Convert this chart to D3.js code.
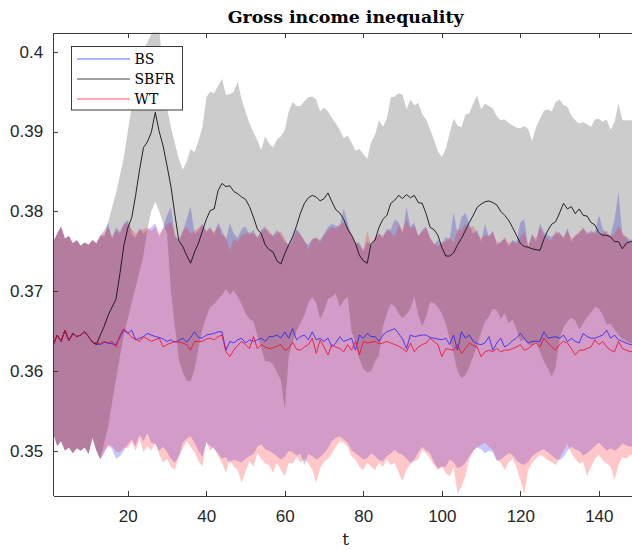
<!DOCTYPE html>
<html>
<head>
<meta charset="utf-8">
<script src="https://cdn.jsdelivr.net/npm/d3@7"></script>
<style>
  body { margin: 0; background: #fff; }
  svg { display: block; }
</style>
</head>
<body>
<svg id="chart" width="632" height="550"></svg>
<script>
// ---- labels ----
const chartTitle = "Gross income inequality";
const xAxisLabel = "t";
const seriesNames = ["BS", "SBFR", "WT"];
const xTickValues = [20, 40, 60, 80, 100, 120, 140];
const yTickValues = [0.35, 0.36, 0.37, 0.38, 0.39, 0.4];
const yTickLabels = ["0.35", "0.36", "0.37", "0.38", "0.39", "0.4"];

// ---- periods ----
const periods = d3.range(1, 150);

// ---- BS: mean and band ----
const bsMean = [
  0.3632,0.3645,0.3637,0.3651,0.3638,0.3647,0.3643,0.3645,0.3649,0.3643,
  0.3636,0.3634,0.3633,0.3636,0.3635,0.3634,0.3633,0.3642,0.3651,0.3647,
  0.3651,0.3639,0.3641,0.3643,0.3647,0.3645,0.3643,0.3642,0.3640,0.3637,
  0.3639,0.3636,0.3638,0.3641,0.3636,0.3642,0.3649,0.3642,0.3641,0.3645,
  0.3646,0.3647,0.3649,0.3649,0.3626,0.3637,0.3635,0.3639,0.3641,0.3635,
  0.3639,0.3637,0.3639,0.3641,0.3637,0.3643,0.3643,0.3645,0.3641,0.3649,
  0.3641,0.3653,0.3639,0.3643,0.3645,0.3639,0.3649,0.3639,0.3641,0.3637,
  0.3641,0.3630,0.3635,0.3643,0.3637,0.3639,0.3641,0.3626,0.3645,0.3641,
  0.3647,0.3643,0.3643,0.3637,0.3645,0.3649,0.3651,0.3653,0.3647,0.3640,
  0.3628,0.3645,0.3643,0.3644,0.3645,0.3645,0.3642,0.3641,0.3640,0.3639,
  0.3641,0.3633,0.3645,0.3626,0.3649,0.3641,0.3645,0.3637,0.3634,0.3633,
  0.3635,0.3643,0.3626,0.3635,0.3641,0.3630,0.3633,0.3638,0.3641,0.3647,
  0.3641,0.3635,0.3637,0.3637,0.3637,0.3649,0.3641,0.3642,0.3643,0.3641,
  0.3645,0.3637,0.3641,0.3637,0.3635,0.3647,0.3643,0.3641,0.3641,0.3643,
  0.3645,0.3651,0.3641,0.3645,0.3639,0.3637,0.3635,0.3633,0.3634
];
const bsHigh = [
  0.3762,0.3772,0.3781,0.3766,0.3769,0.3760,0.3764,0.3757,0.3761,0.3758,
  0.3764,0.3760,0.3770,0.3768,0.3785,0.3765,0.3780,0.3774,0.3785,0.3789,
  0.3772,0.3767,0.3779,0.3772,0.3777,0.3780,0.3785,0.3768,0.3780,0.3795,
  0.3805,0.3768,0.3765,0.3774,0.3790,0.3806,0.3772,0.3776,0.3785,0.3774,
  0.3781,0.3770,0.3786,0.3776,0.3764,0.3785,0.3772,0.3767,0.3778,0.3781,
  0.3770,0.3777,0.3766,0.3777,0.3781,0.3772,0.3770,0.3777,0.3770,0.3762,
  0.3758,0.3769,0.3778,0.3772,0.3762,0.3758,0.3766,0.3766,0.3764,0.3772,
  0.3780,0.3784,0.3782,0.3781,0.3804,0.3786,0.3768,0.3760,0.3761,0.3750,
  0.3762,0.3758,0.3766,0.3773,0.3766,0.3778,0.3777,0.3790,0.3786,0.3772,
  0.3805,0.3781,0.3786,0.3768,0.3777,0.3781,0.3766,0.3758,0.3764,0.3758,
  0.3768,0.3764,0.3799,0.3772,0.3793,0.3798,0.3784,0.3772,0.3777,0.3762,
  0.3784,0.3768,0.3776,0.3758,0.3762,0.3766,0.3756,0.3764,0.3762,0.3786,
  0.3790,0.3755,0.3772,0.3762,0.3785,0.3774,0.3770,0.3768,0.3772,0.3774,
  0.3766,0.3779,0.3762,0.3770,0.3772,0.3780,0.3771,0.3776,0.3772,0.3796,
  0.3778,0.3772,0.3770,0.3790,0.3824,0.3770,0.3768,0.3764,0.3766
];
const bsLow = [
  0.3522,0.3506,0.3512,0.3500,0.3504,0.3497,0.3503,0.3500,0.3504,0.3496,
  0.3516,0.3500,0.3490,0.3497,0.3508,0.3502,0.3490,0.3493,0.3500,0.3508,
  0.3514,0.3506,0.3520,0.3512,0.3522,0.3510,0.3508,0.3500,0.3505,0.3498,
  0.3490,0.3485,0.3493,0.3510,0.3515,0.3518,0.3510,0.3500,0.3492,0.3510,
  0.3506,0.3502,0.3497,0.3490,0.3492,0.3484,0.3489,0.3487,0.3485,0.3490,
  0.3493,0.3496,0.3505,0.3508,0.3502,0.3500,0.3497,0.3493,0.3489,0.3492,
  0.3500,0.3498,0.3494,0.3496,0.3482,0.3496,0.3493,0.3489,0.3492,0.3497,
  0.3503,0.3512,0.3516,0.3518,0.3514,0.3510,0.3501,0.3497,0.3493,0.3489,
  0.3491,0.3497,0.3493,0.3488,0.3487,0.3493,0.3497,0.3501,0.3497,0.3495,
  0.3490,0.3485,0.3489,0.3498,0.3505,0.3500,0.3497,0.3486,0.3478,0.3480,
  0.3480,0.3489,0.3486,0.3478,0.3480,0.3485,0.3493,0.3500,0.3504,0.3502,
  0.3497,0.3500,0.3498,0.3487,0.3489,0.3493,0.3497,0.3495,0.3488,0.3484,
  0.3482,0.3486,0.3493,0.3497,0.3500,0.3502,0.3498,0.3494,0.3490,0.3488,
  0.3492,0.3500,0.3505,0.3502,0.3500,0.3494,0.3497,0.3501,0.3506,0.3510,
  0.3505,0.3500,0.3503,0.3500,0.3503,0.3509,0.3507,0.3505,0.3506
];

// ---- SBFR: mean and band ----
const sbfrMean = [
  0.3632,0.3645,0.3637,0.3651,0.3638,0.3647,0.3643,0.3645,0.3649,0.3643,
  0.3636,0.3633,0.3645,0.3656,0.3670,0.3680,0.3690,0.3722,0.3757,0.3779,
  0.3792,0.3820,0.3852,0.3880,0.3887,0.3899,0.3924,0.3900,0.3882,0.3857,
  0.3831,0.3796,0.3763,0.3756,0.3745,0.3735,0.3749,0.3760,0.3775,0.3790,
  0.3801,0.3803,0.3826,0.3835,0.3831,0.3832,0.3825,0.3822,0.3818,0.3815,
  0.3806,0.3793,0.3778,0.3772,0.3758,0.3752,0.3749,0.3738,0.3734,0.3747,
  0.3758,0.3768,0.3782,0.3798,0.3810,0.3817,0.3820,0.3818,0.3813,0.3816,
  0.3823,0.3812,0.3802,0.3798,0.3790,0.3778,0.3770,0.3760,0.3745,0.3738,
  0.3735,0.3760,0.3764,0.3780,0.3790,0.3795,0.3810,0.3814,0.3820,0.3816,
  0.3821,0.3817,0.3820,0.3811,0.3810,0.3797,0.3780,0.3777,0.3770,0.3755,
  0.3744,0.3744,0.3748,0.3758,0.3766,0.3776,0.3786,0.3795,0.3805,0.3809,
  0.3812,0.3813,0.3811,0.3808,0.3800,0.3795,0.3789,0.3780,0.3770,0.3760,
  0.3756,0.3755,0.3753,0.3752,0.3751,0.3765,0.3776,0.3784,0.3787,0.3798,
  0.3810,0.3803,0.3806,0.3797,0.3803,0.3795,0.3794,0.3786,0.3783,0.3773,
  0.3770,0.3770,0.3768,0.3762,0.3762,0.3753,0.3760,0.3762,0.3762
];
const sbfrHigh = [
  0.3762,0.3772,0.3781,0.3766,0.3769,0.3760,0.3764,0.3757,0.3761,0.3758,
  0.3764,0.3760,0.3770,0.3776,0.3786,0.3805,0.3823,0.3845,0.3868,0.3900,
  0.3930,0.3965,0.3990,0.4003,0.4012,0.4022,0.4035,0.4030,0.3975,0.3930,
  0.3905,0.3885,0.3866,0.3852,0.3862,0.3878,0.3874,0.3888,0.3905,0.3943,
  0.3950,0.3948,0.3957,0.3966,0.3946,0.3947,0.3950,0.3962,0.3940,0.3925,
  0.3910,0.3899,0.3889,0.3877,0.3894,0.3885,0.3880,0.3890,0.3894,0.3902,
  0.3925,0.3937,0.3932,0.3932,0.3938,0.3943,0.3944,0.3940,0.3925,0.3930,
  0.3925,0.3917,0.3910,0.3902,0.3892,0.3895,0.3886,0.3876,0.3878,0.3872,
  0.3866,0.3887,0.3896,0.3914,0.3906,0.3916,0.3943,0.3944,0.3948,0.3946,
  0.3928,0.3940,0.3933,0.3936,0.3922,0.3915,0.3903,0.3890,0.3875,0.3868,
  0.3878,0.3898,0.3916,0.3908,0.3905,0.3921,0.3923,0.3935,0.3945,0.3928,
  0.3935,0.3932,0.3929,0.3919,0.3914,0.3915,0.3911,0.3908,0.3905,0.3904,
  0.3907,0.3903,0.3888,0.3905,0.3916,0.3926,0.3928,0.3925,0.3937,0.3940,
  0.3933,0.3931,0.3920,0.3914,0.3910,0.3912,0.3909,0.3906,0.3915,0.3916,
  0.3912,0.3915,0.3902,0.3912,0.3935,0.3914,0.3914,0.3914,0.3914
];
const sbfrLow = [
  0.3522,0.3506,0.3512,0.3500,0.3504,0.3497,0.3503,0.3500,0.3504,0.3496,
  0.3516,0.3500,0.3490,0.3510,0.3530,0.3560,0.3590,0.3618,0.3645,0.3665,
  0.3686,0.3705,0.3725,0.3745,0.3778,0.3800,0.3812,0.3800,0.3785,0.3772,
  0.3700,0.3655,0.3615,0.3598,0.3588,0.3587,0.3602,0.3628,0.3652,0.3668,
  0.3680,0.3684,0.3690,0.3695,0.3703,0.3695,0.3701,0.3693,0.3684,0.3672,
  0.3665,0.3662,0.3645,0.3628,0.3612,0.3612,0.3608,0.3598,0.3588,0.3552,
  0.3618,0.3636,0.3650,0.3660,0.3670,0.3685,0.3693,0.3685,0.3665,0.3675,
  0.3690,0.3693,0.3697,0.3680,0.3688,0.3693,0.3650,0.3635,0.3615,0.3603,
  0.3598,0.3600,0.3612,0.3620,0.3655,0.3672,0.3684,0.3681,0.3672,0.3666,
  0.3671,0.3678,0.3693,0.3670,0.3656,0.3668,0.3686,0.3685,0.3680,0.3672,
  0.3659,0.3640,0.3622,0.3600,0.3591,0.3595,0.3605,0.3618,0.3632,0.3648,
  0.3662,0.3668,0.3678,0.3676,0.3665,0.3672,0.3660,0.3664,0.3653,0.3637,
  0.3639,0.3633,0.3631,0.3637,0.3624,0.3612,0.3603,0.3593,0.3605,0.3640,
  0.3655,0.3662,0.3667,0.3663,0.3652,0.3660,0.3667,0.3673,0.3680,0.3678,
  0.3670,0.3658,0.3659,0.3652,0.3645,0.3640,0.3638,0.3635,0.3636
];

// ---- WT: mean and band ----
const wtMean = [
  0.3632,0.3645,0.3637,0.3651,0.3638,0.3647,0.3643,0.3645,0.3649,0.3643,
  0.3636,0.3635,0.3634,0.3637,0.3635,0.3637,0.3630,0.3645,0.3653,0.3648,
  0.3642,0.3640,0.3637,0.3643,0.3640,0.3637,0.3639,0.3641,0.3630,0.3633,
  0.3635,0.3637,0.3636,0.3635,0.3633,0.3626,0.3637,0.3637,0.3637,0.3640,
  0.3641,0.3639,0.3643,0.3645,0.3624,0.3618,0.3626,0.3632,0.3637,0.3633,
  0.3628,0.3643,0.3628,0.3633,0.3630,0.3628,0.3629,0.3631,0.3633,0.3626,
  0.3628,0.3636,0.3627,0.3626,0.3630,0.3633,0.3641,0.3622,0.3639,0.3630,
  0.3620,0.3633,0.3630,0.3628,0.3624,0.3633,0.3626,0.3637,0.3620,0.3637,
  0.3635,0.3636,0.3637,0.3634,0.3635,0.3637,0.3635,0.3633,0.3631,0.3628,
  0.3624,0.3635,0.3624,0.3630,0.3633,0.3635,0.3641,0.3637,0.3633,0.3618,
  0.3628,0.3627,0.3626,0.3633,0.3622,0.3628,0.3635,0.3632,0.3630,0.3618,
  0.3624,0.3626,0.3624,0.3628,0.3624,0.3626,0.3626,0.3628,0.3630,0.3633,
  0.3626,0.3628,0.3632,0.3635,0.3630,0.3641,0.3635,0.3630,0.3626,0.3633,
  0.3637,0.3635,0.3628,0.3620,0.3626,0.3626,0.3628,0.3630,0.3639,0.3633,
  0.3637,0.3630,0.3626,0.3624,0.3637,0.3628,0.3626,0.3624,0.3625
];
const wtHigh = [
  0.3762,0.3772,0.3781,0.3766,0.3769,0.3760,0.3764,0.3757,0.3761,0.3758,
  0.3764,0.3760,0.3768,0.3772,0.3780,0.3768,0.3776,0.3772,0.3783,0.3786,
  0.3778,0.3772,0.3776,0.3778,0.3780,0.3775,0.3781,0.3772,0.3778,0.3784,
  0.3787,0.3772,0.3760,0.3776,0.3780,0.3772,0.3776,0.3779,0.3783,0.3776,
  0.3778,0.3774,0.3782,0.3770,0.3768,0.3751,0.3765,0.3762,0.3770,0.3772,
  0.3774,0.3772,0.3768,0.3774,0.3778,0.3776,0.3768,0.3773,0.3775,0.3766,
  0.3756,0.3763,0.3776,0.3770,0.3764,0.3752,0.3764,0.3768,0.3761,0.3770,
  0.3776,0.3780,0.3778,0.3784,0.3786,0.3780,0.3772,0.3762,0.3758,0.3752,
  0.3776,0.3756,0.3768,0.3771,0.3770,0.3776,0.3774,0.3768,0.3784,0.3776,
  0.3790,0.3778,0.3782,0.3770,0.3774,0.3779,0.3768,0.3760,0.3756,0.3762,
  0.3762,0.3768,0.3760,0.3778,0.3776,0.3785,0.3779,0.3782,0.3772,0.3766,
  0.3770,0.3769,0.3774,0.3762,0.3760,0.3768,0.3760,0.3762,0.3759,0.3768,
  0.3774,0.3757,0.3770,0.3766,0.3780,0.3770,0.3766,0.3764,0.3776,0.3771,
  0.3768,0.3776,0.3766,0.3769,0.3775,0.3778,0.3774,0.3772,0.3776,0.3770,
  0.3773,0.3776,0.3768,0.3772,0.3782,0.3774,0.3766,0.3760,0.3762
];
const wtLow = [
  0.3522,0.3506,0.3512,0.3500,0.3504,0.3497,0.3503,0.3500,0.3504,0.3496,
  0.3516,0.3500,0.3488,0.3500,0.3505,0.3506,0.3499,0.3498,0.3504,0.3503,
  0.3511,0.3500,0.3515,0.3498,0.3506,0.3500,0.3510,0.3496,0.3485,0.3490,
  0.3480,0.3476,0.3492,0.3502,0.3512,0.3505,0.3498,0.3487,0.3480,0.3512,
  0.3500,0.3505,0.3493,0.3485,0.3472,0.3490,0.3480,0.3476,0.3460,0.3474,
  0.3487,0.3480,0.3497,0.3490,0.3484,0.3482,0.3472,0.3485,0.3476,0.3468,
  0.3485,0.3484,0.3492,0.3485,0.3490,0.3484,0.3476,0.3460,0.3478,0.3486,
  0.3490,0.3497,0.3505,0.3512,0.3510,0.3505,0.3493,0.3489,0.3480,0.3476,
  0.3485,0.3480,0.3476,0.3485,0.3480,0.3489,0.3482,0.3485,0.3472,0.3462,
  0.3476,0.3483,0.3487,0.3489,0.3501,0.3497,0.3490,0.3482,0.3476,0.3480,
  0.3472,0.3468,0.3480,0.3446,0.3455,0.3468,0.3489,0.3499,0.3505,0.3507,
  0.3510,0.3505,0.3501,0.3489,0.3485,0.3476,0.3485,0.3490,0.3480,0.3463,
  0.3445,0.3476,0.3485,0.3490,0.3495,0.3492,0.3488,0.3486,0.3482,0.3490,
  0.3500,0.3508,0.3497,0.3490,0.3484,0.3486,0.3468,0.3480,0.3490,0.3495,
  0.3488,0.3484,0.3480,0.3463,0.3482,0.3492,0.3490,0.3495,0.3494
];

// ---- styling ----
const lineColors = { BS: "#1a1aff", SBFR: "#111111", WT: "#f0102f" };
const lineOpacity = { BS: 0.75, SBFR: 0.9, WT: 0.85 };
const legendOpacity = { BS: 0.65, SBFR: 0.8, WT: 0.7 };
const bandColors = { BS: "#0000ff", SBFR: "#000000", WT: "#ff0000" };
const bandOpacity = { BS: 0.22, SBFR: 0.2, WT: 0.22 };
const axisColor = "#3a3a3a";
const textColor = "#262626";

const svg = d3.select("#chart");
const plot = { left: 53.2, right: 638.1, top: 32.5, bottom: 495.5 };

const x = d3.scaleLinear().domain([1, 150]).range([plot.left, plot.right]);
const y = d3.scaleLinear().domain([0.34439, 0.40241]).range([plot.bottom, plot.top]);

svg.append("defs").append("clipPath").attr("id", "plot-clip")
  .append("rect")
  .attr("x", plot.left).attr("y", plot.top)
  .attr("width", plot.right - plot.left).attr("height", plot.bottom - plot.top);

const layer = svg.append("g").attr("clip-path", "url(#plot-clip)");

const series = [
  { name: "BS", mean: bsMean, hi: bsHigh, lo: bsLow },
  { name: "SBFR", mean: sbfrMean, hi: sbfrHigh, lo: sbfrLow },
  { name: "WT", mean: wtMean, hi: wtHigh, lo: wtLow }
];

// confidence bands
series.forEach(s => {
  const area = d3.area()
    .x((d, i) => x(periods[i]))
    .y0((d, i) => y(s.lo[i]))
    .y1((d, i) => y(s.hi[i]));
  layer.append("path")
    .datum(s.mean)
    .attr("d", area)
    .attr("fill", bandColors[s.name])
    .attr("fill-opacity", bandOpacity[s.name])
    .attr("stroke", "none");
});

// mean lines
series.forEach(s => {
  const line = d3.line()
    .x((d, i) => x(periods[i]))
    .y(d => y(d));
  layer.append("path")
    .datum(s.mean)
    .attr("d", line)
    .attr("fill", "none")
    .attr("stroke", lineColors[s.name])
    .attr("stroke-opacity", lineOpacity[s.name])
    .attr("stroke-width", 1)
    .attr("stroke-linejoin", "round");
});

// axes
const fontSans = "'Liberation Sans', Arial, Helvetica, sans-serif";
const fontSerif = "'DejaVu Serif', 'Liberation Serif', serif";

const xAxis = svg.append("g")
  .attr("transform", `translate(0,${plot.bottom})`)
  .call(d3.axisBottom(x).tickValues(xTickValues).tickSizeInner(-5).tickSizeOuter(0).tickPadding(14));
const xAxisTop = svg.append("g")
  .attr("transform", `translate(0,${plot.top})`)
  .call(d3.axisTop(x).tickValues(xTickValues).tickSizeInner(-5).tickSizeOuter(0).tickFormat(""));
const yAxis = svg.append("g")
  .attr("transform", `translate(${plot.left},0)`)
  .call(d3.axisLeft(y).tickValues(yTickValues).tickSizeInner(-5).tickSizeOuter(0).tickPadding(10)
    .tickFormat((d, i) => yTickLabels[i]));
const yAxisRight = svg.append("g")
  .attr("transform", `translate(${plot.right},0)`)
  .call(d3.axisRight(y).tickValues(yTickValues).tickSizeInner(-5).tickSizeOuter(0).tickFormat(""));

[xAxis, xAxisTop, yAxis, yAxisRight].forEach(g => {
  g.selectAll("path.domain").attr("stroke", axisColor).attr("stroke-width", 1).attr("shape-rendering", "crispEdges");
  g.selectAll(".tick line").attr("stroke", axisColor).attr("stroke-width", 1).attr("shape-rendering", "crispEdges");
  g.selectAll(".tick text").attr("fill", textColor).style("font-family", fontSans).style("font-size", "17px");
});

// title
const titleText = svg.append("text")
  .attr("x", (plot.left + plot.right) / 2)
  .attr("y", 23)
  .attr("text-anchor", "middle")
  .attr("fill", "#000")
  .style("font-family", fontSerif)
  .style("font-weight", "bold")
  .style("font-size", "16px")
  .text(chartTitle);
const tw = titleText.node().getComputedTextLength();
if (tw > 0) titleText.style("font-size", (16 * 236 / tw).toFixed(2) + "px");

// x-axis label
svg.append("text")
  .attr("x", (plot.left + plot.right) / 2)
  .attr("y", 545)
  .attr("text-anchor", "middle")
  .attr("fill", textColor)
  .style("font-family", fontSerif)
  .style("font-size", "17px")
  .text(xAxisLabel);

// legend
const legend = svg.append("g");
legend.append("rect")
  .attr("x", 71.5).attr("y", 46.5).attr("width", 111).attr("height", 63.5)
  .attr("fill", "#fff").attr("stroke", textColor).attr("stroke-width", 0.9);
seriesNames.forEach((name, i) => {
  const ly = 59 + i * 20;
  legend.append("line")
    .attr("x1", 77).attr("x2", 130).attr("y1", ly).attr("y2", ly)
    .attr("stroke", lineColors[name])
    .attr("stroke-opacity", legendOpacity[name])
    .attr("stroke-width", 1.2);
  legend.append("text")
    .attr("x", 134.5).attr("y", ly + 5)
    .attr("fill", "#000")
    .style("font-family", fontSerif)
    .style("font-size", "14px")
    .text(name);
});
</script>
</body>
</html>
